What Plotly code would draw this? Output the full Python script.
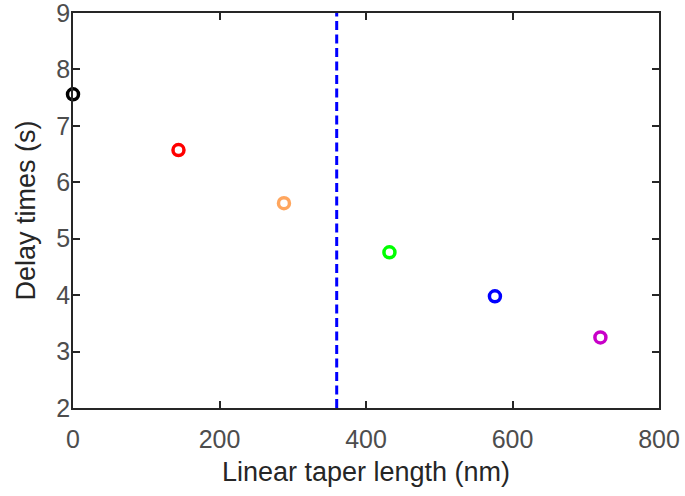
import plotly.graph_objects as go

# Delay time versus linear taper length
taper_length_nm = [0, 144, 288, 432, 576, 720]
delay_times_s = [7.56, 6.57, 5.63, 4.76, 3.98, 3.25]
marker_colors = ["#000000", "#FF0000", "#FFA65E", "#00FF00", "#0000FF", "#C800C8"]

# Vertical reference line position
threshold_nm = 360
y_range = [2, 9]

x_ticks = [0, 200, 400, 600, 800]
y_ticks = [2, 3, 4, 5, 6, 7, 8, 9]

axis_color = "#262626"
tick_font = dict(family="Liberation Sans, Arial, sans-serif", size=25, color="#4D4D4D")
title_font = dict(family="Liberation Sans, Arial, sans-serif", size=27, color="#262626")

fig = go.Figure()

fig.add_trace(go.Scatter(
    x=[threshold_nm, threshold_nm], y=y_range,
    mode="lines",
    line=dict(color="#0000FF", width=3, dash="9px,4.5px"),
    showlegend=False, hoverinfo="skip",
))

fig.add_trace(go.Scatter(
    x=taper_length_nm, y=delay_times_s,
    mode="markers",
    marker=dict(symbol="circle-open", size=11, color=marker_colors,
                line=dict(width=3.5, color=marker_colors)),
    cliponaxis=False,
    showlegend=False,
))

common_axis = dict(
    showgrid=False, zeroline=False, automargin=False,
    showline=True, linecolor=axis_color, linewidth=1.5, mirror="ticks",
    ticks="inside", ticklen=7, tickwidth=1.5, tickcolor=axis_color,
    tickfont=tick_font, ticklabeloverflow="allow",
)

fig.update_layout(
    width=685, height=496,
    margin=dict(l=73, r=26, t=13, b=88),
    paper_bgcolor="white", plot_bgcolor="white",
    xaxis=dict(range=[0, 800], tickvals=x_ticks, ticklabelstandoff=8,
               title=dict(text="Linear taper length (nm)", font=title_font, standoff=10),
               **common_axis),
    yaxis=dict(range=y_range, tickvals=y_ticks, ticklabelstandoff=-4,
               title=dict(text="Delay times (s)", font=title_font, standoff=13),
               **common_axis),
)

fig.write_html("out.html")
